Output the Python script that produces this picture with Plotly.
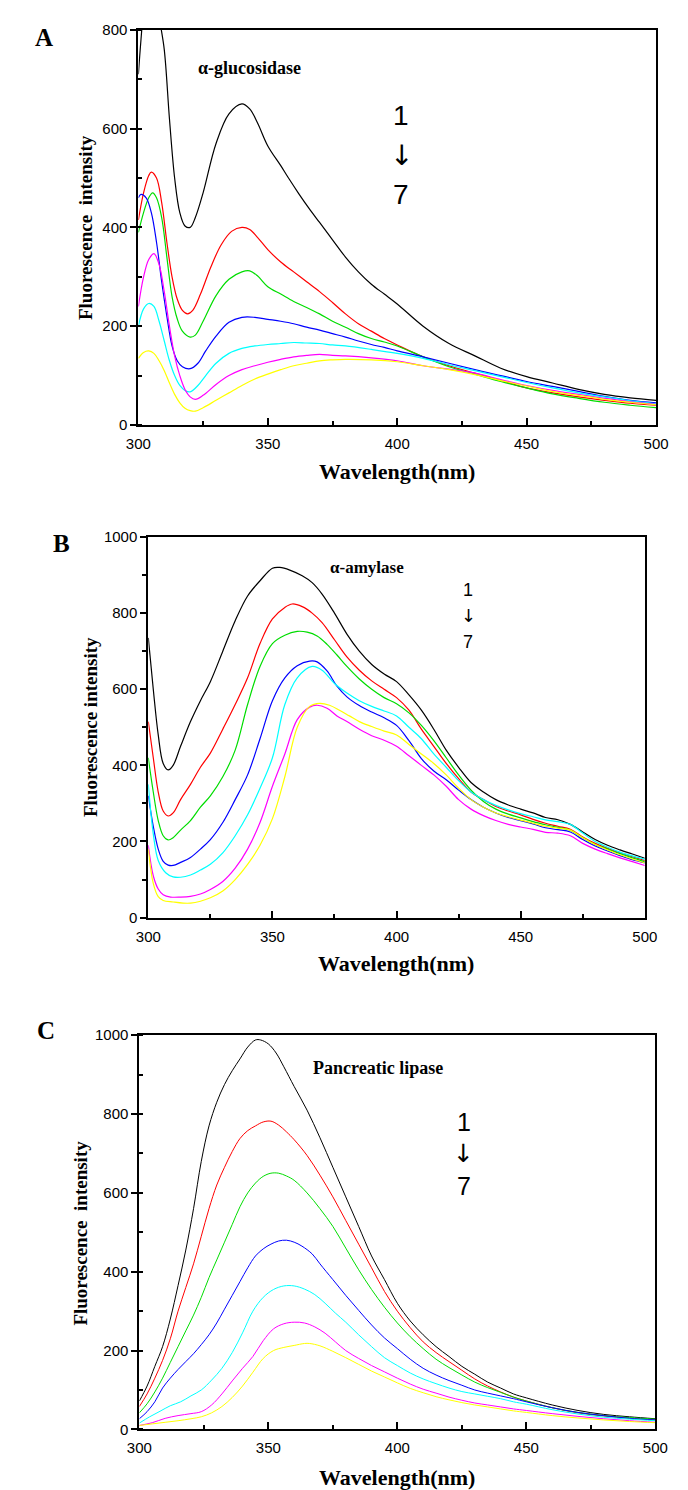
import plotly.graph_objects as go

W, H = 688, 1490

# ---------------- Panel A (alpha-glucosidase) ----------------
A1_x = [300, 301, 303, 305, 306, 308, 310, 312, 314, 316, 318, 320, 322, 325, 330, 335, 340, 343, 346, 350, 355, 358, 362, 366, 370, 375, 380, 385, 390, 395, 400, 410, 420, 430, 440, 450, 460, 470, 480, 490, 500]
A1_y = [710, 780, 900, 960, 950, 830, 760, 620, 500, 430, 403, 400, 420, 470, 570, 630, 650, 640, 612, 565, 525, 500, 468, 438, 410, 375, 340, 310, 285, 265, 245, 200, 165, 140, 115, 98, 85, 72, 62, 55, 50]
A2_x = [300, 302, 304, 305, 307, 309, 311, 313, 315, 317, 319, 321, 324, 328, 332, 336, 340, 343, 346, 350, 355, 360, 365, 370, 375, 380, 385, 390, 395, 400, 410, 420, 430, 440, 450, 460, 470, 480, 490, 500]
A2_y = [415, 470, 505, 512, 500, 450, 370, 300, 255, 232, 225, 232, 265, 320, 365, 392, 400, 396, 380, 355, 330, 310, 290, 270, 248, 225, 205, 190, 175, 162, 138, 120, 105, 90, 75, 65, 57, 50, 44, 40]
A3_x = [300, 302, 304, 305.5, 307, 309, 311, 313, 315, 317, 320, 322, 325, 330, 335, 340, 343, 346, 350, 355, 360, 365, 370, 375, 380, 385, 390, 395, 400, 410, 420, 430, 440, 450, 460, 470, 480, 490, 500]
A3_y = [390, 430, 460, 470, 460, 420, 340, 260, 215, 190, 178, 182, 210, 262, 295, 310, 312, 302, 280, 265, 250, 238, 225, 210, 198, 185, 175, 168, 160, 138, 118, 103, 88, 75, 63, 54, 46, 40, 35]
A4_x = [300, 301, 303, 305, 307, 309, 311, 313, 315, 317, 320, 323, 326, 330, 335, 340, 345, 350, 355, 360, 365, 370, 375, 380, 385, 390, 395, 400, 410, 420, 430, 440, 450, 460, 470, 480, 490, 500]
A4_y = [460, 467, 460, 430, 370, 290, 220, 160, 130, 118, 114, 125, 150, 180, 208, 218, 218, 214, 210, 205, 198, 192, 185, 178, 170, 163, 157, 150, 138, 125, 112, 100, 88, 78, 68, 58, 50, 45]
A5_x = [300, 302, 304, 306, 308, 310, 312, 314, 316, 318, 320, 323, 326, 330, 335, 340, 345, 350, 355, 360, 365, 370, 375, 380, 390, 400, 410, 420, 430, 440, 450, 460, 470, 480, 490, 500]
A5_y = [200, 235, 246, 240, 210, 170, 130, 100, 80, 70, 67, 80, 100, 125, 145, 155, 160, 163, 165, 167, 166, 165, 162, 160, 153, 145, 135, 122, 110, 98, 86, 75, 65, 57, 49, 43]
A6_x = [300, 302, 304, 306, 308, 310, 312, 314, 316, 318, 320, 322, 325, 330, 335, 340, 345, 350, 355, 360, 365, 370, 375, 380, 390, 400, 410, 420, 430, 440, 450, 460, 470, 480, 490, 500]
A6_y = [240, 300, 335, 347, 325, 270, 200, 140, 100, 72, 57, 52, 60, 82, 100, 112, 120, 127, 133, 138, 141, 143, 141, 140, 136, 130, 120, 113, 105, 92, 80, 70, 62, 54, 47, 42]
A7_x = [300, 302, 304, 306, 308, 310, 312, 314, 316, 318, 320, 322, 325, 330, 335, 340, 345, 350, 355, 360, 365, 370, 375, 380, 390, 400, 410, 420, 430, 440, 450, 460, 470, 480, 490, 500]
A7_y = [135, 147, 150, 145, 130, 110, 85, 62, 45, 34, 29, 28, 35, 50, 65, 80, 93, 103, 112, 120, 125, 130, 132, 133, 132, 128, 120, 112, 102, 90, 79, 68, 60, 52, 46, 41]

# ---------------- Panel B (alpha-amylase) ----------------
B1_x = [300, 302, 304, 306, 308, 310, 313, 317, 321, 325, 330, 335, 340, 345, 350, 353, 357, 362, 366, 370, 375, 380, 385, 390, 395, 400, 405, 410, 415, 420, 425, 430, 435, 440, 445, 450, 455, 460, 465, 470, 475, 480, 485, 490, 495, 500]
B1_y = [735, 600, 480, 405, 388, 400, 450, 515, 570, 620, 700, 780, 845, 885, 918, 920, 913, 898, 880, 850, 800, 745, 700, 665, 640, 620, 585, 545, 495, 440, 395, 355, 330, 310, 296, 285, 275, 263, 257, 245, 225, 205, 190, 178, 167, 156]
B2_x = [300, 302, 304, 306, 308, 310, 313, 317, 321, 325, 330, 335, 340, 345, 350, 355, 358, 362, 366, 370, 375, 380, 385, 390, 395, 400, 405, 410, 415, 420, 425, 430, 435, 440, 445, 450, 455, 460, 465, 470, 475, 480, 485, 490, 495, 500]
B2_y = [515, 420, 330, 280, 267, 275, 310, 350, 395, 432, 495, 560, 630, 720, 785, 815, 824, 817, 800, 775, 730, 685, 650, 622, 600, 578, 545, 495, 450, 405, 365, 330, 310, 292, 280, 270, 258, 248, 240, 232, 212, 195, 182, 170, 160, 150]
B3_x = [300, 302, 304, 306, 308, 310, 313, 317, 321, 325, 330, 335, 340, 345, 350, 355, 360, 364, 368, 372, 376, 380, 385, 390, 395, 400, 405, 410, 415, 420, 425, 430, 435, 440, 445, 450, 455, 460, 465, 470, 475, 480, 485, 490, 495, 500]
B3_y = [420, 330, 255, 215, 204, 210, 230, 255, 290, 320, 370, 440, 560, 660, 720, 742, 752, 750, 740, 718, 690, 660, 627, 600, 578, 562, 538, 505, 465, 420, 375, 335, 305, 285, 272, 262, 252, 244, 237, 230, 210, 192, 180, 168, 157, 147]
B4_x = [300, 302, 304, 306, 308, 310, 313, 317, 321, 325, 330, 335, 340, 345, 350, 355, 360, 365, 368, 372, 376, 380, 385, 390, 395, 400, 405, 410, 415, 420, 425, 430, 435, 440, 445, 450, 455, 460, 465, 470, 475, 480, 485, 490, 495, 500]
B4_y = [320, 240, 180, 148, 138, 137, 145, 158, 180, 205, 250, 310, 375, 470, 570, 630, 662, 674, 672, 648, 608, 580, 557, 540, 525, 505, 465, 418, 385, 362, 335, 310, 290, 275, 263, 255, 246, 236, 231, 225, 205, 188, 175, 163, 152, 144]
B5_x = [300, 302, 304, 307, 310, 313, 317, 321, 325, 330, 335, 340, 345, 350, 355, 360, 366, 370, 375, 380, 385, 390, 395, 400, 405, 410, 415, 420, 425, 430, 435, 440, 445, 450, 455, 460, 465, 470, 475, 480, 485, 490, 495, 500]
B5_y = [350, 220, 150, 118, 107, 106, 112, 125, 140, 170, 215, 270, 340, 420, 560, 630, 660, 650, 615, 590, 570, 555, 543, 530, 500, 470, 430, 395, 360, 330, 310, 295, 283, 273, 265, 257, 252, 245, 222, 200, 185, 172, 162, 153]
B6_x = [300, 302, 304, 306, 309, 313, 317, 321, 325, 330, 335, 340, 345, 350, 355, 360, 365, 368, 372, 376, 380, 385, 390, 395, 400, 405, 410, 415, 420, 425, 430, 435, 440, 445, 450, 455, 460, 465, 470, 475, 480, 485, 490, 495, 500]
B6_y = [190, 110, 75, 60, 54, 54, 56, 62, 74, 95, 130, 180, 250, 345, 430, 520, 553, 558, 550, 530, 515, 495, 478, 466, 450, 425, 400, 375, 345, 310, 285, 268, 255, 245, 238, 232, 224, 222, 215, 195, 180, 168, 157, 147, 137]
B7_x = [300, 302, 304, 306, 310, 314, 317, 321, 325, 330, 335, 340, 345, 350, 355, 360, 365, 369, 373, 377, 381, 385, 390, 395, 400, 405, 410, 415, 420, 425, 430, 435, 440, 445, 450, 455, 460, 465, 470, 475, 480, 485, 490, 495, 500]
B7_y = [180, 90, 55, 45, 41, 38, 38, 43, 52, 70, 100, 140, 190, 260, 370, 500, 555, 563, 558, 545, 530, 515, 502, 490, 480, 455, 430, 405, 375, 340, 310, 290, 275, 265, 256, 248, 240, 235, 230, 210, 192, 178, 165, 154, 144]

# ---------------- Panel C (pancreatic lipase) ----------------
C1_x = [300, 303, 306, 309, 312, 315, 318, 321, 324, 327, 330, 333, 336, 339, 342, 345, 347, 350, 353, 356, 360, 365, 370, 375, 380, 385, 390, 395, 400, 405, 410, 415, 420, 425, 430, 435, 440, 445, 450, 460, 470, 480, 490, 500]
C1_y = [72, 110, 160, 210, 280, 365, 455, 560, 680, 770, 830, 875, 910, 940, 970, 988, 988, 978, 955, 920, 870, 810, 740, 665, 590, 515, 440, 380, 320, 275, 240, 210, 185, 160, 140, 120, 105, 90, 80, 62, 48, 38, 32, 27]
C2_x = [300, 303, 306, 309, 312, 315, 318, 321, 324, 327, 330, 333, 336, 339, 342, 345, 348, 351, 354, 357, 360, 365, 370, 375, 380, 385, 390, 395, 400, 405, 410, 415, 420, 425, 430, 435, 440, 445, 450, 460, 470, 480, 490, 500]
C2_y = [58, 90, 130, 175, 230, 300, 360, 420, 490, 560, 620, 665, 705, 738, 758, 770, 780, 782, 772, 755, 735, 695, 645, 590, 530, 470, 410, 350, 300, 258, 222, 195, 172, 150, 128, 110, 95, 82, 72, 55, 42, 34, 28, 24]
C3_x = [300, 303, 306, 309, 312, 315, 318, 321, 324, 327, 330, 333, 336, 339, 342, 345, 348, 351, 354, 357, 360, 365, 370, 375, 380, 385, 390, 395, 400, 405, 410, 415, 420, 425, 430, 435, 440, 445, 450, 460, 470, 480, 490, 500]
C3_y = [42, 65, 95, 130, 170, 210, 250, 290, 335, 385, 430, 475, 520, 565, 600, 625, 642, 650, 650, 643, 632, 600, 560, 515, 460, 405, 355, 310, 270, 235, 205, 178, 157, 138, 120, 106, 94, 82, 72, 55, 43, 35, 30, 26]
C4_x = [300, 303, 306, 309, 312, 315, 318, 321, 324, 327, 330, 333, 336, 339, 342, 345, 348, 351, 354, 357, 360, 363, 367, 370, 375, 380, 385, 390, 395, 400, 405, 410, 415, 420, 425, 430, 435, 440, 445, 450, 460, 470, 480, 490, 500]
C4_y = [27, 45, 70, 105, 130, 152, 172, 192, 215, 240, 270, 305, 340, 375, 410, 440, 458, 470, 478, 480, 475, 465, 445, 420, 380, 340, 302, 265, 232, 205, 178, 155, 138, 124, 112, 100, 92, 85, 78, 70, 55, 43, 35, 28, 24]
C5_x = [300, 304, 308, 312, 316, 320, 324, 328, 332, 336, 340, 344, 348, 352, 356, 360, 364, 368, 372, 376, 380, 385, 390, 395, 400, 405, 410, 415, 420, 425, 430, 435, 440, 445, 450, 460, 470, 480, 490, 500]
C5_y = [16, 32, 46, 60, 70, 85, 100, 125, 155, 195, 245, 300, 335, 355, 364, 364, 356, 342, 320, 295, 272, 240, 210, 182, 162, 143, 128, 116, 105, 96, 90, 84, 78, 70, 64, 50, 39, 31, 26, 22]
C6_x = [300, 305, 310, 315, 320, 324, 328, 332, 336, 340, 344, 348, 352, 356, 360, 364, 368, 372, 376, 380, 385, 390, 395, 400, 405, 410, 415, 420, 425, 430, 435, 440, 445, 450, 460, 470, 480, 490, 500]
C6_y = [10, 17, 28, 35, 40, 45, 62, 90, 123, 155, 185, 225, 255, 268, 272, 270, 260, 244, 222, 200, 180, 162, 146, 130, 115, 102, 92, 82, 74, 67, 62, 57, 52, 48, 40, 33, 27, 22, 18]
C7_x = [300, 305, 310, 315, 320, 324, 328, 332, 336, 340, 344, 348, 352, 356, 360, 364, 366, 370, 375, 380, 385, 390, 395, 400, 405, 410, 415, 420, 425, 430, 435, 440, 445, 450, 460, 470, 480, 490, 500]
C7_y = [10, 14, 18, 22, 27, 32, 42, 58, 81, 110, 145, 180, 200, 208, 213, 218, 218, 212, 198, 182, 165, 148, 133, 118, 104, 93, 83, 75, 68, 62, 57, 52, 47, 43, 35, 29, 24, 20, 17]

COLORS = ["#000000", "#ff0000", "#00dd00", "#0000ff", "#00ffff", "#ff00ff", "#ffff00"]

X_TICKS = [300, 350, 400, 450, 500]
A_Y_TICKS = [0, 200, 400, 600, 800]
BC_Y_TICKS = [0, 200, 400, 600, 800, 1000]

panels = {
    "A": [(A1_x, A1_y), (A2_x, A2_y), (A3_x, A3_y), (A4_x, A4_y), (A5_x, A5_y), (A6_x, A6_y), (A7_x, A7_y)],
    "B": [(B1_x, B1_y), (B2_x, B2_y), (B3_x, B3_y), (B4_x, B4_y), (B5_x, B5_y), (B6_x, B6_y), (B7_x, B7_y)],
    "C": [(C1_x, C1_y), (C2_x, C2_y), (C3_x, C3_y), (C4_x, C4_y), (C5_x, C5_y), (C6_x, C6_y), (C7_x, C7_y)],
}

# pixel boxes of the three plot areas (left, top, right, bottom)
boxes = {"A": (122, 13, 660, 412.7), "B": (132.3, 526, 648.3, 911), "C": (123, 1030, 659.3, 1428.7)}
axis_suffix = {"A": "", "B": "2", "C": "3"}
lw = {"A": 1.2, "B": 1.2, "C": 1.0}

fig = go.Figure()
for key, series in panels.items():
    s = axis_suffix[key]
    for (xs, ys), c in zip(series, COLORS):
        fig.add_trace(go.Scatter(x=xs, y=ys, mode="lines", line=dict(color=c, width=lw[key], shape="spline", smoothing=1.0),
                                 xaxis="x" + s, yaxis="y" + s, showlegend=False, hoverinfo="skip"))

def px(x):
    return x / W

def py(y):
    return 1 - y / H

tickfont = dict(family="Liberation Sans, Arial, sans-serif", size=15, color="black")
layout = dict(width=W, height=H, margin=dict(l=0, r=0, t=0, b=0), paper_bgcolor="white", plot_bgcolor="white", showlegend=False)

ymax = {"A": 800, "B": 1000, "C": 1000}
yticks = {"A": A_Y_TICKS, "B": BC_Y_TICKS, "C": BC_Y_TICKS}
yminor_ticks = {"A": "inside", "B": "outside", "C": "inside"}
for key, (l, t, r, b) in boxes.items():
    s = axis_suffix[key]
    layout["xaxis" + s] = dict(domain=[px(l), px(r)], range=[300, 500], anchor="y" + s,
                               tickvals=X_TICKS, ticks="inside", ticklen=7, tickwidth=1.5, tickcolor="black",
                               minor=dict(tickvals=[325, 375, 425, 475], ticks="inside", ticklen=4, tickwidth=1.5, tickcolor="black"),
                               showline=True, linewidth=2, linecolor="black", mirror=True, showgrid=False, zeroline=False,
                               tickfont=tickfont, ticklabelstandoff=4)
    layout["yaxis" + s] = dict(domain=[py(b), py(t)], range=[0, ymax[key]], anchor="x" + s,
                               tickvals=yticks[key], ticks="outside", ticklen=6, tickwidth=1.5, tickcolor="black",
                               minor=dict(dtick=100, ticks=yminor_ticks[key], ticklen=4, tickwidth=1.5, tickcolor="black"),
                               showline=True, linewidth=2, linecolor="black", mirror=True, showgrid=False, zeroline=False,
                               tickfont=tickfont)
fig.update_layout(**layout)

serif_b = "Liberation Serif, Times New Roman, serif"
sans = "Liberation Sans, DejaVu Sans, Arial, sans-serif"
arrowfont = "DejaVu Sans, sans-serif"

def ann(text, x, y, size, family, bold=False, angle=0):
    t = "<b>" + text + "</b>" if bold else text
    fig.add_annotation(text=t, x=px(x), y=py(y), xref="paper", yref="paper", showarrow=False,
                       xanchor="center", yanchor="middle", textangle=angle,
                       font=dict(family=family, size=size, color="black"))

# panel letters
ann("A", 24, 21, 25, serif_b, True)
ann("B", 42, 533, 25, serif_b, True)
ann("C", 26, 1025, 25, serif_b, True)

# enzyme labels
ann("α-glucosidase", 237, 52, 18, serif_b, True)
ann("α-amylase", 360, 557, 17, serif_b, True)
ann("Pancreatic lipase", 371, 1063, 18, serif_b, True)

# 1 -> 7 arrows
for (x, y1, y2, y3, sz) in [(395, 100, 140, 180, 28), (465, 580, 605, 632, 18), (460, 1118, 1150, 1182, 25)]:
    ann("1", x, y1, sz, sans)
    ann("↓", x, y2, sz, arrowfont)
    ann("7", x, y3, sz, sans)

# axis titles
ann("Fluorescence  intensity", 67, 213, 19, serif_b, True, -90)
ann("Fluorescence intensity", 73, 718, 19, serif_b, True, -90)
ann("Fluorescence  intensity", 62, 1230, 19, serif_b, True, -90)
ann("Wavelength(nm)", 391, 460, 22, serif_b, True)
ann("Wavelength(nm)", 390, 957, 22, serif_b, True)
ann("Wavelength(nm)", 391, 1477, 22, serif_b, True)

fig.write_html("out.html")
